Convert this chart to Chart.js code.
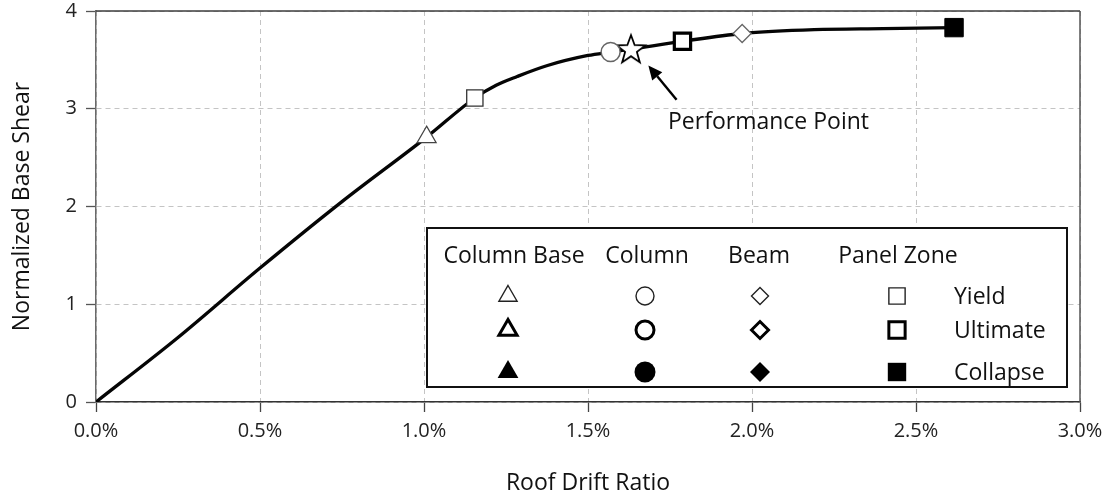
<!DOCTYPE html>
<html>
<head>
<meta charset="utf-8">
<script src="https://cdn.jsdelivr.net/npm/chart.js@4.4.1/dist/chart.umd.min.js"></script>
<style>
  html, body { margin: 0; padding: 0; background: #fff; }
  #wrap { width: 1110px; height: 494px; }
</style>
</head>
<body>
<div id="wrap"><canvas id="pushover" width="1110" height="494"></canvas></div>
<script>
// pushover curve (roof drift in %, normalized base shear)
const driftRatio = [0, 0.25, 0.5, 0.75, 1.008, 1.155, 1.22, 1.284, 1.374, 1.5, 1.569, 1.631, 1.788, 1.97, 2.19, 2.4, 2.616];
const baseShear  = [0, 0.66, 1.37, 2.05, 2.71, 3.11, 3.24, 3.33, 3.44, 3.545, 3.58, 3.61, 3.69, 3.77, 3.81, 3.82, 3.83];

// damage events along the curve
const eventNames = ['Column Base Yield', 'Panel Zone Yield', 'Column Yield', 'Performance Point', 'Panel Zone Ultimate', 'Beam Yield', 'Panel Zone Collapse'];
const eventDrift = [1.008, 1.155, 1.569, 1.631, 1.788, 1.970, 2.616];
const eventShear = [2.71, 3.11, 3.58, 3.61, 3.69, 3.77, 3.83];

const xTicks = [0, 0.5, 1.0, 1.5, 2.0, 2.5, 3.0];
const yTicks = [0, 1, 2, 3, 4];

const legendMembers = ['Column Base', 'Column', 'Beam', 'Panel Zone'];
const legendStates = ['Yield', 'Ultimate', 'Collapse'];

const perfLabel = 'Performance Point';
const arrowTail = [1.770, 3.092];
const arrowTip = [1.684, 3.443];
const perfLabelAt = [1.744, 2.863];

const FONT = "'Open Sans', 'Noto Sans', sans-serif";
const PLOT_TOP = 11;

function makeStar(outer, inner) {
    const size = Math.ceil(outer * 2 + 4);
    const c = document.createElement('canvas');
    c.width = size; c.height = size;
    const g = c.getContext('2d');
    const cx = size / 2, cy = size / 2 + 1;
    g.beginPath();
    for (let i = 0; i < 10; i++) {
        const r = i % 2 === 0 ? outer : inner;
        const a = -Math.PI / 2 + i * Math.PI / 5;
        const px = cx + r * Math.cos(a), py = cy + r * Math.sin(a);
        if (i === 0) g.moveTo(px, py); else g.lineTo(px, py);
    }
    g.closePath();
    g.fillStyle = '#fff';
    g.fill();
    g.lineWidth = 1.8;
    g.strokeStyle = '#000';
    g.stroke();
    return c;
}

const eventStyles = {
    'Column Base Yield':   { pointStyle: 'triangle', radius: 11, bg: '#fff', border: '#444', width: 1.2 },
    'Panel Zone Yield':    { pointStyle: 'rect', radius: 11.5, bg: '#fff', border: '#333', width: 1.3 },
    'Column Yield':        { pointStyle: 'circle', radius: 9.5, bg: '#fff', border: '#666', width: 1.5 },
    'Performance Point':   { pointStyle: makeStar(15, 6.2), radius: 15, bg: '#fff', border: '#000', width: 1 },
    'Panel Zone Ultimate': { pointStyle: 'rect', radius: 11.5, bg: '#fff', border: '#000', width: 3.2 },
    'Beam Yield':          { pointStyle: 'rectRot', radius: 9, bg: '#fff', border: '#666', width: 1.3 },
    'Panel Zone Collapse': { pointStyle: 'rect', radius: 13, bg: '#000', border: '#000', width: 1 }
};

const legendShapes = ['triangle', 'circle', 'rectRot', 'rect'];
const legendRadius = { triangle: 10.5, circle: 9, rectRot: 8.5, rect: 11.5 };

const datasets = [{
    label: 'Pushover',
    data: driftRatio.map((x, i) => ({ x: x, y: baseShear[i] })),
    showLine: true,
    borderColor: '#050505',
    borderWidth: 3.3,
    pointRadius: 0,
    cubicInterpolationMode: 'monotone',
    order: 10
}];

eventNames.forEach((name, i) => {
    const s = eventStyles[name];
    datasets.push({
        label: name,
        data: [{ x: eventDrift[i], y: eventShear[i] }],
        pointStyle: s.pointStyle,
        pointRadius: s.radius,
        pointHoverRadius: s.radius,
        pointBackgroundColor: s.bg,
        pointBorderColor: s.border,
        pointBorderWidth: s.width,
        showLine: false,
        order: 1
    });
});

// pin the top of the plot area where the original has it
const pinTopPlugin = {
    id: 'pinTop',
    afterLayout(chart) {
        const a = chart.chartArea;
        const y = chart.scales.y;
        if (a.top === PLOT_TOP) return;
        a.top = PLOT_TOP;
        a.height = a.bottom - a.top;
        y.top = PLOT_TOP;
        y.height = y.bottom - y.top;
        y.configure();
    }
};

const framePlugin = {
    id: 'frame',
    beforeDatasetsDraw(chart) {
        const { ctx, chartArea: a } = chart;
        ctx.save();
        ctx.lineWidth = 1.5;
        ctx.strokeStyle = '#3c3c3c';
        ctx.beginPath();
        ctx.moveTo(a.left, a.top);
        ctx.lineTo(a.right, a.top);
        ctx.stroke();
        ctx.strokeStyle = '#555';
        ctx.beginPath();
        ctx.moveTo(a.right, a.top);
        ctx.lineTo(a.right, a.bottom);
        ctx.stroke();
        ctx.restore();
    }
};

const annotationPlugin = {
    id: 'perfArrow',
    afterDatasetsDraw(chart) {
        const { ctx, scales: { x, y } } = chart;
        const x1 = x.getPixelForValue(arrowTail[0]), y1 = y.getPixelForValue(arrowTail[1]);
        const x2 = x.getPixelForValue(arrowTip[0]), y2 = y.getPixelForValue(arrowTip[1]);
        const ang = Math.atan2(y2 - y1, x2 - x1);
        const head = 14, half = 6.5;
        const bx = x2 - head * Math.cos(ang), by = y2 - head * Math.sin(ang);
        ctx.save();
        ctx.strokeStyle = '#000';
        ctx.fillStyle = '#000';
        ctx.lineWidth = 2.4;
        ctx.beginPath();
        ctx.moveTo(x1, y1);
        ctx.lineTo(bx, by);
        ctx.stroke();
        ctx.beginPath();
        ctx.moveTo(x2, y2);
        ctx.lineTo(bx + half * Math.sin(ang), by - half * Math.cos(ang));
        ctx.lineTo(bx - half * Math.sin(ang), by + half * Math.cos(ang));
        ctx.closePath();
        ctx.fill();
        ctx.font = '23px ' + FONT;
        ctx.textAlign = 'left';
        ctx.textBaseline = 'middle';
        ctx.fillStyle = '#111';
        ctx.fillText(perfLabel, x.getPixelForValue(perfLabelAt[0]), y.getPixelForValue(perfLabelAt[1]));
        ctx.restore();
    }
};

const legendPlugin = {
    id: 'damageLegend',
    afterDatasetsDraw(chart) {
        const ctx = chart.ctx;
        const box = { left: 427, top: 228, right: 1067, bottom: 387 };
        const headerX = [514, 647, 759, 898];
        const markX = [508, 645, 760, 897];
        const rowY = [296, 330, 372];
        ctx.save();
        ctx.fillStyle = '#fff';
        ctx.fillRect(box.left, box.top, box.right - box.left, box.bottom - box.top);
        ctx.lineWidth = 2;
        ctx.strokeStyle = '#111';
        ctx.strokeRect(box.left, box.top, box.right - box.left, box.bottom - box.top);

        ctx.font = '23px ' + FONT;
        ctx.fillStyle = '#111';
        ctx.textBaseline = 'middle';
        ctx.textAlign = 'center';
        legendMembers.forEach((m, i) => ctx.fillText(m, headerX[i], 256));
        ctx.textAlign = 'left';
        legendStates.forEach((s, j) => ctx.fillText(s, 954, rowY[j] + 1));

        legendShapes.forEach((shape, i) => {
            legendStates.forEach((state, j) => {
                ctx.fillStyle = state === 'Collapse' ? '#000' : '#fff';
                ctx.strokeStyle = state === 'Yield' ? '#222' : '#000';
                ctx.lineWidth = state === 'Yield' ? 1.4 : 3;
                const r = legendRadius[shape] + (state === 'Collapse' ? 1.5 : 0);
                Chart.helpers.drawPoint(ctx, {
                    pointStyle: shape,
                    radius: r,
                    rotation: 0,
                    borderWidth: state === 'Collapse' ? 0 : ctx.lineWidth
                }, markX[i], rowY[j]);
            });
        });
        ctx.restore();
    }
};

new Chart(document.getElementById('pushover'), {
    type: 'scatter',
    data: { datasets: datasets },
    options: {
        responsive: false,
        animation: false,
        layout: { padding: { left: 0, top: PLOT_TOP, right: 30, bottom: 0 } },
        plugins: {
            legend: { display: false },
            tooltip: { enabled: false }
        },
        scales: {
            x: {
                type: 'linear',
                min: 0,
                max: 3,
                afterBuildTicks: s => { s.ticks = xTicks.map(v => ({ value: v })); },
                afterFit: s => { s.height = 92; s.paddingLeft = 0; s.paddingRight = 0; },
                ticks: {
                    callback: v => v.toFixed(1) + '%',
                    font: { family: FONT, size: 20 },
                    color: '#222',
                    padding: 7,
                    maxRotation: 0,
                    autoSkip: false
                },
                grid: { color: '#c4c4c4', lineWidth: 1, tickLength: 10, tickColor: '#444', tickBorderDash: [0, 0], tickWidth: 1.3 },
                border: { display: true, color: '#333', width: 1.5, dash: [5, 4] },
                title: {
                    display: true,
                    text: 'Roof Drift Ratio',
                    font: { family: FONT, size: 23 },
                    color: '#111',
                    padding: { top: 0, bottom: -3 }
                }
            },
            y: {
                min: 0,
                max: 4,
                afterBuildTicks: s => { s.ticks = yTicks.map(v => ({ value: v })); },
                afterFit: s => { s.width = 96; s.paddingTop = 0; s.paddingBottom = 0; },
                ticks: {
                    font: { family: FONT, size: 20 },
                    color: '#222',
                    padding: 9
                },
                grid: { color: '#c4c4c4', lineWidth: 1, tickLength: 10, tickColor: '#555', tickBorderDash: [0, 0], tickWidth: 1.3 },
                border: { display: true, color: '#6a6a6a', width: 1.5, dash: [5, 4] },
                title: {
                    display: true,
                    text: 'Normalized Base Shear',
                    font: { family: FONT, size: 23 },
                    color: '#111',
                    padding: { top: 9, bottom: 0 }
                }
            }
        }
    },
    plugins: [pinTopPlugin, framePlugin, annotationPlugin, legendPlugin]
});
</script>
</body>
</html>
